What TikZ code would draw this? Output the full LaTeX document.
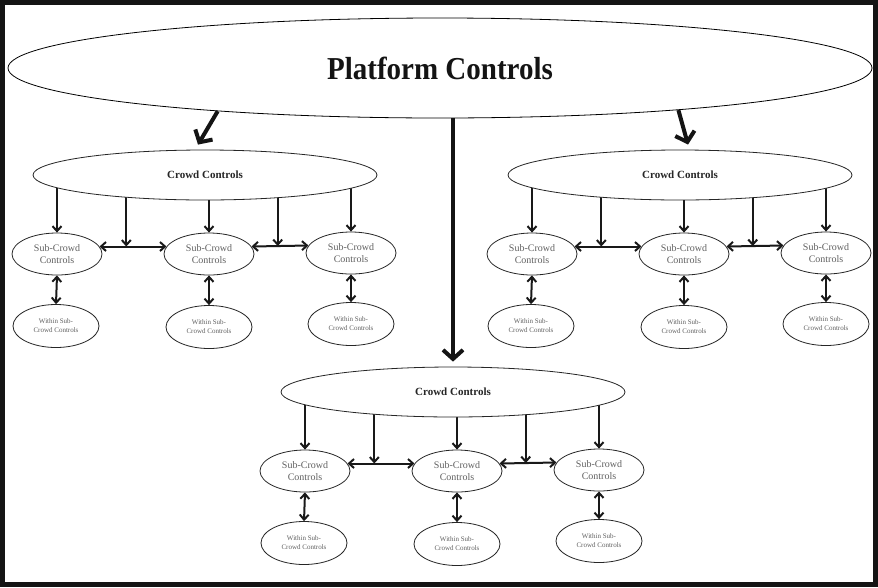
\documentclass[tikz,border=0pt]{standalone}
\usepackage{fontspec}
\setmainfont{Liberation Serif}
\usetikzlibrary{arrows.meta,calc,shapes.geometric}
\pgfdeclarelayer{background}
\pgfdeclarelayer{paper}
\pgfsetlayers{paper,background,main}
\tikzset{
  ell/.style={ellipse, draw=black!85, line width=0.8pt, fill=white, inner sep=0pt, align=center},
  platell/.style={ell, draw=black, minimum width=864pt, minimum height=100pt,
    font=\fontsize{29}{32}\selectfont\bfseries, text=black!92},
  crowdell/.style={ell, minimum width=344pt, minimum height=50pt,
    font=\fontsize{11}{13}\selectfont\bfseries, text=black!85},
  subell/.style={ell, minimum width=90pt, minimum height=42pt,
    font=\fontsize{10}{12.5}\selectfont, text=black!62},
  withinell/.style={ell, minimum width=86pt, minimum height=43pt,
    font=\fontsize{7}{9}\selectfont, text=black!62},
  arr/.style={line width=2pt, black!90, -{Straight Barb[length=5pt,width=9pt]}},
  darr/.style={line width=2pt, black!90, {Straight Barb[length=5pt,width=9pt]}-{Straight Barb[length=5pt,width=9pt]}},
  bigarr/.style={line width=4pt, black!92, -{Straight Barb[length=9pt,width=20pt]}},
  frame/.style={line width=5pt, black!92},
  cluster/.pic={
    \node[crowdell] (-c) at (0,0) {Crowd Controls};
    \node[subell] (-s1) at (-148,79) {Sub-Crowd\\Controls};
    \node[subell] (-s2) at (4,79) {Sub-Crowd\\Controls};
    \node[subell] (-s3) at (146,78) {Sub-Crowd\\Controls};
    \node[withinell] (-w1) at (-149,151) {Within Sub-\\Crowd Controls};
    \node[withinell] (-w2) at (4,152) {Within Sub-\\Crowd Controls};
    \node[withinell] (-w3) at (146,149) {Within Sub-\\Crowd Controls};
    \coordinate (-m1) at ($(-s1.10)!0.4!(-s2.170)$);
    \coordinate (-m2) at ($(-s2.10)!0.46!(-s3.170)$);
    \begin{pgfonlayer}{background}
      \draw[arr] (-c.center -| -s1.north) -- (-s1.north);
      \draw[arr] (-c.center -| -s2.north) -- (-s2.north);
      \draw[arr] (-c.center -| -s3.north) -- (-s3.north);
      \draw[arr] (-c.center -| -m1) -- (-m1);
      \draw[arr] (-c.center -| -m2) -- (-m2);
    \end{pgfonlayer}
    \draw[darr] (-s1.10) -- (-s2.170);
    \draw[darr] (-s2.10) -- (-s3.170);
    \draw[darr] (-s1.south) -- (-w1.north);
    \draw[darr] (-s2.south) -- (-w2.north);
    \draw[darr] (-s3.south) -- (-w3.north);
  }
}
\begin{document}
\begin{tikzpicture}[x=1pt,y=-1pt]
  \useasboundingbox (0,0) rectangle (878,587);
  \begin{pgfonlayer}{paper}
    \fill[white] (0,0) rectangle (878,587);
  \end{pgfonlayer}
  \node[platell] (P) at (440,68) {\scalebox{1}[1.1]{Platform Controls}};
  \pic (L) at (205,175) {cluster};
  \pic (R) at (680,175) {cluster};
  \pic (B) at (453,392) {cluster};
  \draw[bigarr] (P.191) -- ($(L-c.north)+(-7,-5)$);
  \draw[bigarr] (P.-10) -- ($(R-c.north)+(8,-5)$);
  \draw[bigarr] (P.south -| B-c.north) -- ($(B-c.north)+(0,-5)$);
  \draw[frame] (2.5,2.5) rectangle (875.5,584.5);
\end{tikzpicture}
\end{document}
